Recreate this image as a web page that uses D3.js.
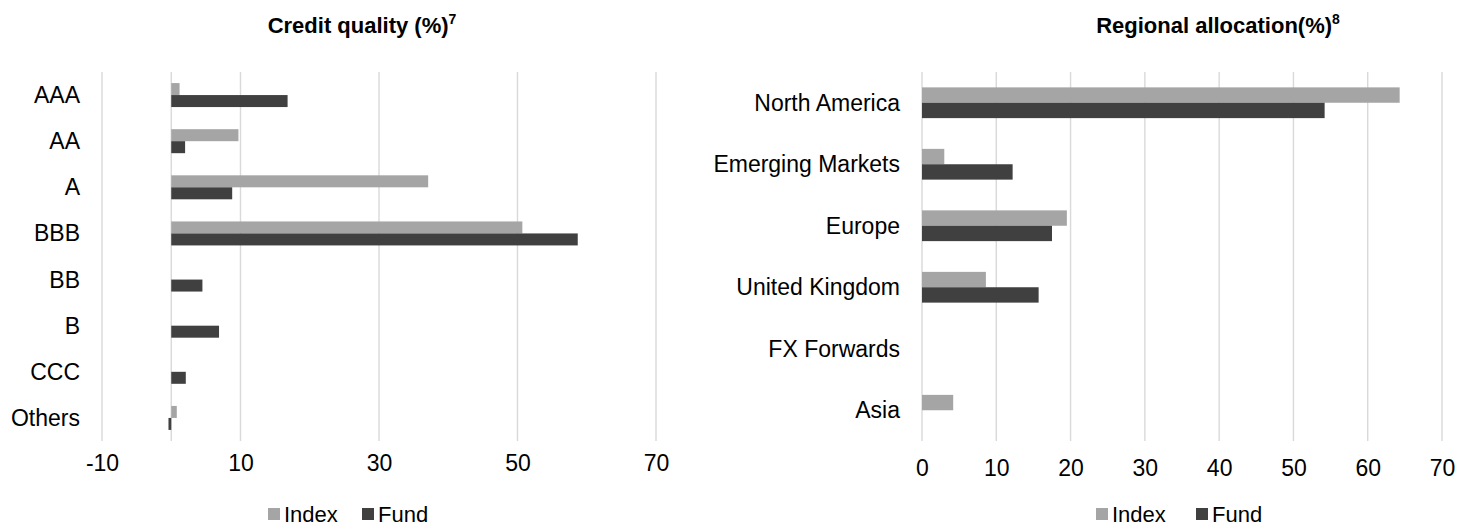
<!DOCTYPE html>
<html>
<head>
<meta charset="utf-8">
<script src="https://cdn.jsdelivr.net/npm/d3@7"></script>
<style>
  html, body { margin: 0; padding: 0; background: #fff; }
  svg { display: block; font-family: 'Liberation Sans', Arial, sans-serif; }
</style>
</head>
<body>
<svg id="chart" width="1469" height="531"></svg>
<script>
// credit quality panel
const creditCategories = ['AAA', 'AA', 'A', 'BBB', 'BB', 'B', 'CCC', 'Others']
const creditIndex = [1.2, 9.7, 37.1, 50.7, 0, 0, 0, 0.8]
const creditFund = [16.8, 2.0, 8.8, 58.7, 4.5, 6.9, 2.1, -0.4]
const creditTicks = [-10, 10, 30, 50, 70]

// regional allocation panel
const regionCategories = ['North America', 'Emerging Markets', 'Europe', 'United Kingdom', 'FX Forwards', 'Asia']
const regionIndex = [64.3, 3.0, 19.5, 8.6, 0, 4.2]
const regionFund = [54.2, 12.2, 17.5, 15.7, 0, 0]
const regionTicks = [0, 10, 20, 30, 40, 50, 60, 70]

const seriesNames = ['Index', 'Fund']
const colors = { Index: '#a5a5a5', Fund: '#404040' }
const gridColor = '#d9d9d9'
const fontSize = 23

const svg = d3.select('#chart')

function drawPanel (opts) {
  const g = svg.append('g')
  const rows = opts.categories.map((c, i) => ({
    cat: c,
    Index: opts.index[i],
    Fund: opts.fund[i]
  }))

  const x = d3.scaleLinear().domain(opts.domain).range([opts.left, opts.right])
  const y = d3.scaleBand()
    .domain(opts.categories)
    .range([opts.top, opts.bottom])
    .paddingInner(opts.pad)
    .paddingOuter(opts.pad / 2)
  const ySub = d3.scaleBand().domain(seriesNames).range([0, y.bandwidth()])

  // gridlines (every tick) plus the zero line
  const gridVals = Array.from(new Set(opts.ticks.concat([0])))
  g.append('g')
    .selectAll('line')
    .data(gridVals)
    .join('line')
    .attr('x1', (d) => x(d))
    .attr('x2', (d) => x(d))
    .attr('y1', opts.top)
    .attr('y2', opts.bottom)
    .attr('stroke', gridColor)
    .attr('stroke-width', 1.4)

  // bars
  const groups = g.append('g')
    .selectAll('g')
    .data(rows)
    .join('g')
    .attr('transform', (d) => `translate(0,${y(d.cat)})`)

  groups.selectAll('rect')
    .data((d) => seriesNames.map((s) => ({ s, v: d[s] })))
    .join('rect')
    .attr('x', (d) => x(Math.min(0, d.v)))
    .attr('width', (d) => Math.abs(x(d.v) - x(0)))
    .attr('y', (d) => ySub(d.s))
    .attr('height', ySub.bandwidth())
    .attr('fill', (d) => colors[d.s])

  // category labels
  g.append('g')
    .selectAll('text')
    .data(opts.categories)
    .join('text')
    .attr('x', opts.left - 22)
    .attr('y', (d) => y(d) - y.step() * opts.pad / 2 + y.step() / 2)
    .attr('dy', '0.35em')
    .attr('text-anchor', 'end')
    .attr('font-size', fontSize)
    .attr('fill', '#000')
    .text((d) => d)

  // value axis, plain hyphen for negatives like the source
  const axis = d3.axisBottom(x)
    .tickValues(opts.ticks)
    .tickFormat((d) => String(d))
    .tickSize(0)
    .tickPadding(0)
  const ax = g.append('g')
    .attr('transform', `translate(0,${opts.axisY})`)
    .call(axis)
  ax.select('.domain').remove()
  ax.selectAll('text')
    .attr('font-size', fontSize)
    .attr('font-family', "'Liberation Sans', Arial, sans-serif")
    .attr('fill', '#000')

  // title with superscript note
  const title = g.append('text')
    .attr('x', opts.titleX)
    .attr('y', 33)
    .attr('text-anchor', 'middle')
    .attr('font-size', 22)
    .attr('font-weight', 'bold')
    .attr('fill', '#000')
  title.append('tspan').text(opts.title)
  title.append('tspan')
    .attr('font-size', 14)
    .attr('dy', -9)
    .text(opts.note)

  // legend
  const leg = g.append('g')
    .attr('transform', `translate(${opts.legendX},${opts.legendY})`)
  const item = leg.selectAll('g')
    .data(seriesNames)
    .join('g')
    .attr('transform', (d, i) => `translate(${i * opts.legendStep},0)`)
  item.append('rect')
    .attr('x', 0)
    .attr('y', -6)
    .attr('width', 12)
    .attr('height', 12)
    .attr('fill', (d) => colors[d])
  item.append('text')
    .attr('x', 16)
    .attr('dy', '0.35em')
    .attr('font-size', 22)
    .attr('fill', '#000')
    .text((d) => d)
}

drawPanel({
  categories: creditCategories,
  index: creditIndex,
  fund: creditFund,
  ticks: creditTicks,
  domain: [-10, 70],
  left: 102,
  right: 656,
  top: 72,
  bottom: 441,
  pad: 0.48,
  axisY: 455,
  title: 'Credit quality (%)',
  note: '7',
  titleX: 362,
  legendX: 268,
  legendY: 514,
  legendStep: 94
})

drawPanel({
  categories: regionCategories,
  index: regionIndex,
  fund: regionFund,
  ticks: regionTicks,
  domain: [0, 70],
  left: 922,
  right: 1442,
  top: 72,
  bottom: 441,
  pad: 0.5,
  axisY: 460,
  title: 'Regional allocation(%)',
  note: '8',
  titleX: 1218,
  legendX: 1096,
  legendY: 514,
  legendStep: 100
})
</script>
</body>
</html>
